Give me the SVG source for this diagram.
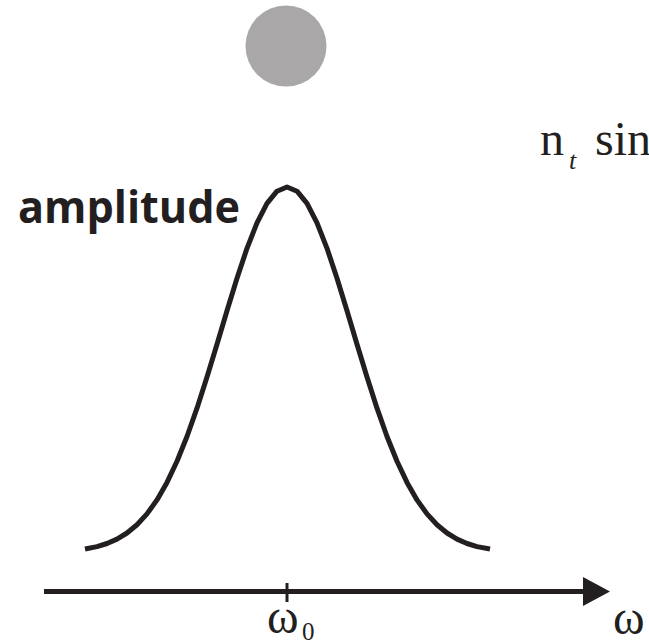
<svg xmlns="http://www.w3.org/2000/svg" width="649" height="643" viewBox="0 0 649 643">
<style>
.ink{fill:none;stroke:#231f20;stroke-linecap:butt;stroke-linejoin:round}
.serif{font-family:"Liberation Serif","Times New Roman",serif;fill:#231f20}
.sans{font-family:"Open Sans","Noto Sans",sans-serif;font-weight:bold;fill:#231f20}
</style>
<rect width="649" height="643" fill="#ffffff"/>
<g id="ball"><circle cx="286" cy="46" r="40.5" fill="#a9a7a8"/></g>
<g id="formula"><text class="serif" x="540" y="155" font-size="48">n<tspan font-size="26" font-style="italic" x="569" y="169">t</tspan><tspan x="595" y="155">sin</tspan></text></g>
<g id="amplitude-label"><text class="sans" x="18" y="223" font-size="45" textLength="222" lengthAdjust="spacingAndGlyphs">amplitude</text></g>
<g id="curve"><polyline class="ink" stroke-width="5" points="85,549 97,546.6 107,543.5 117,539.1 127,533 137,524.8 147,513.9 157,499.9 167,482.4 177,461.3 187,436.5 197,408.2 207,377.1 217,344.2 227,310.7 237,278.2 247,248.3 257,222.9 267,203.4 277,191.2 287,187 297,191.2 307,203.4 317,222.9 327,248.3 337,278.2 347,310.7 357,344.2 367,377.1 377,408.2 387,436.5 397,461.3 407,482.4 417,499.9 427,513.9 437,524.8 447,533 457,539.1 467,543.5 477,546.6 490,549"/></g>
<g id="connectors">
<line class="ink" x1="44" y1="591.5" x2="586" y2="591.5" stroke-width="5"/>
<polygon points="583,577 610,591.5 583,606" fill="#231f20"/>
<line class="ink" x1="287" y1="583" x2="287" y2="602" stroke-width="3"/>
</g>
<g id="omega0"><text class="serif" x="267" y="633" font-size="48">ω<tspan font-size="25" x="302" y="640">0</tspan></text></g>
<g id="omega"><text class="serif" x="613" y="634" font-size="48">ω</text></g>
</svg>
